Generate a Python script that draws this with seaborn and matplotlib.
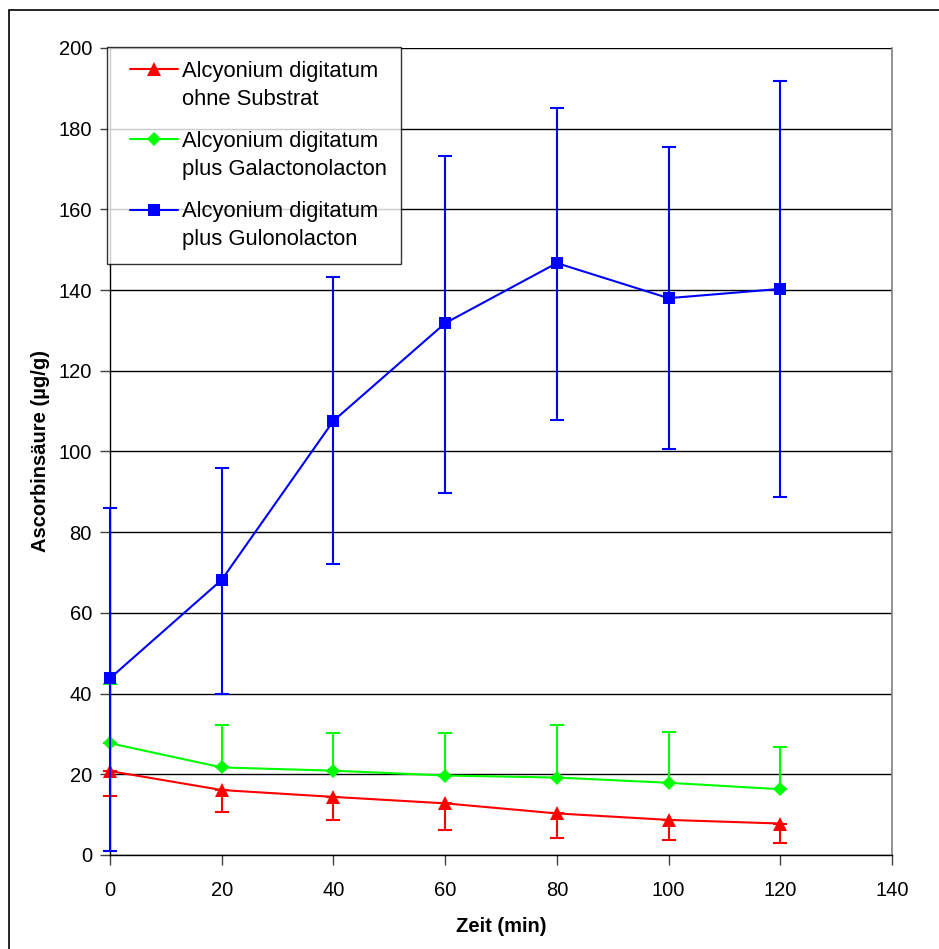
import numpy as np
import pandas as pd
import matplotlib
matplotlib.use("Agg")
import matplotlib.pyplot as plt
import matplotlib.patches as mpatches
from matplotlib.legend_handler import HandlerLine2D
import seaborn as sns

# ---- data ----
zeit = [0, 20, 40, 60, 80, 100, 120]

ohne_mean = [20.8, 16.1, 14.4, 12.8, 10.3, 8.7, 7.8]
ohne_lower = [14.6, 10.7, 8.7, 6.2, 4.1, 3.7, 2.9]

galac_mean = [27.7, 21.7, 20.9, 19.7, 19.2, 17.9, 16.3]
galac_upper = [42.4, 32.2, 30.2, 30.2, 32.2, 30.6, 26.8]

gulon_mean = [43.8, 68.2, 107.6, 131.8, 146.7, 138.0, 140.3]
gulon_upper = [86.0, 95.9, 143.2, 173.2, 185.1, 175.5, 191.8]
gulon_lower = [1.0, 39.9, 72.1, 89.7, 107.8, 100.6, 88.7]

labels = ["Alcyonium digitatum\nohne Substrat",
          "Alcyonium digitatum\nplus Galactonolacton",
          "Alcyonium digitatum\nplus Gulonolacton"]
colors = ["#FF0000", "#00FF00", "#0000FF"]
markers = ["^", "D", "s"]
msizes = [9.5, 7.5, 8]

x_ticks = [0, 20, 40, 60, 80, 100, 120, 140]
y_ticks = [0, 20, 40, 60, 80, 100, 120, 140, 160, 180, 200]


class FirstLineHandler(HandlerLine2D):
    """Place the legend handle level with the first text line, slightly indented."""
    def create_artists(self, legend, orig_handle, xdescent, ydescent,
                       width, height, fontsize, trans):
        arts = super().create_artists(legend, orig_handle, xdescent, ydescent,
                                      width, height, fontsize, trans)
        for a in arts:
            xd = np.asarray(a.get_xdata(), dtype=float)
            x0 = xd[0] + 0.43 * fontsize
            x1 = xd[-1] + 0.11 * fontsize
            if len(xd) >= 2:
                xd = np.linspace(x0, x1, len(xd))
            else:
                xd = np.array([(x0 + x1) / 2.0])
            a.set_xdata(xd)
            a.set_ydata(np.asarray(a.get_ydata(), dtype=float) + 0.74 * fontsize)
        return arts


sns.set_theme(style="white")
plt.rcParams["font.family"] = ["Liberation Sans", "DejaVu Sans"]
plt.rcParams["text.color"] = "black"
plt.rcParams["axes.labelcolor"] = "black"
plt.rcParams["xtick.color"] = "black"
plt.rcParams["ytick.color"] = "black"

fig = plt.figure(figsize=(9.39, 9.49), dpi=100)
ax = fig.add_axes([110/939, 1-855/949, (892-110)/939, (855-48)/949])

means = [ohne_mean, galac_mean, gulon_mean]
yerrs = [
    [np.array(ohne_mean) - np.array(ohne_lower), np.zeros(len(zeit))],
    [np.zeros(len(zeit)), np.array(galac_upper) - np.array(galac_mean)],
    [np.array(gulon_mean) - np.array(gulon_lower), np.array(gulon_upper) - np.array(gulon_mean)],
]

handles = []
for i in range(3):
    df = pd.DataFrame({"Zeit": zeit, "Wert": means[i]})
    sns.lineplot(data=df, x="Zeit", y="Wert", ax=ax, color=colors[i],
                 marker=markers[i], markersize=msizes[i], markeredgewidth=0,
                 linewidth=1.5, label=labels[i], zorder=3 + i)
    ln = ax.lines[-1]
    ln.set_clip_on(False)
    handles.append(ln)
    eb = ax.errorbar(zeit, means[i], yerr=yerrs[i], fmt="none", ecolor=colors[i],
                     elinewidth=1.5, capsize=4.7, capthick=1.5, zorder=3 + i)
    for art in eb.lines[1] + eb.lines[2]:
        art.set_clip_on(False)

ax.set_xlim(0, 140)
ax.set_ylim(0, 200)
ax.set_xticks(x_ticks)
ax.set_yticks(y_ticks)
ax.yaxis.grid(True, color="black", linewidth=1)
ax.xaxis.grid(False)
ax.set_axisbelow(True)

for s in ["left", "bottom"]:
    ax.spines[s].set_color("black")
    ax.spines[s].set_linewidth(1)
ax.spines["top"].set_visible(False)
ax.spines["right"].set_color("#808080")
ax.spines["right"].set_linewidth(1.2)

ax.tick_params(axis="both", which="major", direction="out", length=7, width=1,
               color="#404040", labelsize=14.5, labelcolor="black", bottom=True, left=True)
ax.tick_params(axis="x", pad=12)
ax.tick_params(axis="y", pad=6)

ax.set_xlabel("Zeit (min)", fontsize=14.5, fontweight="bold", labelpad=12)
ax.set_ylabel("Ascorbinsäure (µg/g)", fontsize=14.5, fontweight="bold", labelpad=6)

leg = ax.legend(handles=handles, labels=labels,
                handler_map={h: FirstLineHandler() for h in handles},
                loc="upper left", bbox_to_anchor=(-0.004, 1.001), borderaxespad=0,
                fontsize=15.8, frameon=True, fancybox=False, shadow=False,
                handlelength=2.52, handletextpad=0.3, labelspacing=0.97,
                borderpad=0.62)
leg.get_frame().set_edgecolor("black")
leg.get_frame().set_linewidth(1)
leg.get_frame().set_facecolor("white")
leg.set_zorder(10)
for t in leg.get_texts():
    t.set_color("black")
    t.set_linespacing(1.43)

# outer chart border
fig.patches.append(mpatches.Rectangle((9/939, -0.1), 1.2, 1 - 10/949 + 0.1,
                                      transform=fig.transFigure, fill=False,
                                      edgecolor="black", linewidth=1.2))

fig.savefig("out.png", dpi=100)
